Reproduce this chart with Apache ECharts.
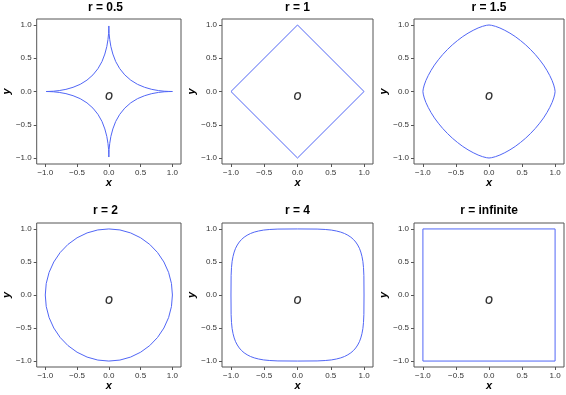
<!DOCTYPE html>
<html>
<head>
<meta charset="utf-8">
<script src="https://cdn.jsdelivr.net/npm/echarts@6/dist/echarts.min.js"></script>
<style>
html,body{margin:0;padding:0;background:#fff;}
#chart{width:566px;height:395px;}
</style>
</head>
<body>
<div id="chart"></div>
<script>
// ---- data ----
const panelTitles = ['r = 0.5', 'r = 1', 'r = 1.5', 'r = 2', 'r = 4', 'r = infinite'];
const tickValues = [-1, -0.5, 0, 0.5, 1];
const originLabel = 'O';
const originPoint = [[0, -0.09]];

const curveR05 = [
  [1,0],[0.985,0],[0.941,0.001],[0.871,0.004],[0.780,0.014],[0.675,0.032],[0.563,0.063],[0.450,0.108],[0.344,0.171],[0.25,0.25],[0.171,0.344],[0.108,0.450],[0.063,0.563],[0.032,0.675],[0.014,0.780],[0.004,0.871],[0.001,0.941],[0,0.985],[0,1],
  [0,0.985],[-0.001,0.941],[-0.004,0.871],[-0.014,0.780],[-0.032,0.675],[-0.063,0.563],[-0.108,0.450],[-0.171,0.344],[-0.25,0.25],[-0.344,0.171],[-0.450,0.108],[-0.563,0.063],[-0.675,0.032],[-0.780,0.014],[-0.871,0.004],[-0.941,0.001],[-0.985,0],[-1,0],
  [-0.985,0],[-0.941,-0.001],[-0.871,-0.004],[-0.780,-0.014],[-0.675,-0.032],[-0.563,-0.063],[-0.450,-0.108],[-0.344,-0.171],[-0.25,-0.25],[-0.171,-0.344],[-0.108,-0.450],[-0.063,-0.563],[-0.032,-0.675],[-0.014,-0.780],[-0.004,-0.871],[-0.001,-0.941],[0,-0.985],[0,-1],
  [0,-0.985],[0.001,-0.941],[0.004,-0.871],[0.014,-0.780],[0.032,-0.675],[0.063,-0.563],[0.108,-0.450],[0.171,-0.344],[0.25,-0.25],[0.344,-0.171],[0.450,-0.108],[0.563,-0.063],[0.675,-0.032],[0.780,-0.014],[0.871,-0.004],[0.941,-0.001],[0.985,0],[1,0]
];

const curveR1 = [[1,0],[0,1],[-1,0],[0,-1],[1,0]];

const curveR15 = [
  [1,0],[0.995,0.039],[0.980,0.097],[0.955,0.165],[0.920,0.239],[0.877,0.317],[0.826,0.397],[0.766,0.477],[0.701,0.555],[0.630,0.630],[0.555,0.701],[0.477,0.766],[0.397,0.826],[0.317,0.877],[0.239,0.920],[0.165,0.955],[0.097,0.980],[0.039,0.995],[0,1],
  [-0.039,0.995],[-0.097,0.980],[-0.165,0.955],[-0.239,0.920],[-0.317,0.877],[-0.397,0.826],[-0.477,0.766],[-0.555,0.701],[-0.630,0.630],[-0.701,0.555],[-0.766,0.477],[-0.826,0.397],[-0.877,0.317],[-0.920,0.239],[-0.955,0.165],[-0.980,0.097],[-0.995,0.039],[-1,0],
  [-0.995,-0.039],[-0.980,-0.097],[-0.955,-0.165],[-0.920,-0.239],[-0.877,-0.317],[-0.826,-0.397],[-0.766,-0.477],[-0.701,-0.555],[-0.630,-0.630],[-0.555,-0.701],[-0.477,-0.766],[-0.397,-0.826],[-0.317,-0.877],[-0.239,-0.920],[-0.165,-0.955],[-0.097,-0.980],[-0.039,-0.995],[0,-1],
  [0.039,-0.995],[0.097,-0.980],[0.165,-0.955],[0.239,-0.920],[0.317,-0.877],[0.397,-0.826],[0.477,-0.766],[0.555,-0.701],[0.630,-0.630],[0.701,-0.555],[0.766,-0.477],[0.826,-0.397],[0.877,-0.317],[0.920,-0.239],[0.955,-0.165],[0.980,-0.097],[0.995,-0.039],[1,0]
];

const curveR2 = [
  [1,0],[0.985,0.174],[0.940,0.342],[0.866,0.5],[0.766,0.643],[0.643,0.766],[0.5,0.866],[0.342,0.940],[0.174,0.985],[0,1],
  [-0.174,0.985],[-0.342,0.940],[-0.5,0.866],[-0.643,0.766],[-0.766,0.643],[-0.866,0.5],[-0.940,0.342],[-0.985,0.174],[-1,0],
  [-0.985,-0.174],[-0.940,-0.342],[-0.866,-0.5],[-0.766,-0.643],[-0.643,-0.766],[-0.5,-0.866],[-0.342,-0.940],[-0.174,-0.985],[0,-1],
  [0.174,-0.985],[0.342,-0.940],[0.5,-0.866],[0.643,-0.766],[0.766,-0.643],[0.866,-0.5],[0.940,-0.342],[0.985,-0.174],[1,0]
];

const curveR4 = [
  [1,0],[0.998,0.295],[0.992,0.417],[0.983,0.509],[0.969,0.585],[0.952,0.650],[0.931,0.707],[0.905,0.757],[0.875,0.802],[0.841,0.841],[0.802,0.875],[0.757,0.905],[0.707,0.931],[0.650,0.952],[0.585,0.969],[0.509,0.983],[0.417,0.992],[0.295,0.998],[0,1],
  [-0.295,0.998],[-0.417,0.992],[-0.509,0.983],[-0.585,0.969],[-0.650,0.952],[-0.707,0.931],[-0.757,0.905],[-0.802,0.875],[-0.841,0.841],[-0.875,0.802],[-0.905,0.757],[-0.931,0.707],[-0.952,0.650],[-0.969,0.585],[-0.983,0.509],[-0.992,0.417],[-0.998,0.295],[-1,0],
  [-0.998,-0.295],[-0.992,-0.417],[-0.983,-0.509],[-0.969,-0.585],[-0.952,-0.650],[-0.931,-0.707],[-0.905,-0.757],[-0.875,-0.802],[-0.841,-0.841],[-0.802,-0.875],[-0.757,-0.905],[-0.707,-0.931],[-0.650,-0.952],[-0.585,-0.969],[-0.509,-0.983],[-0.417,-0.992],[-0.295,-0.998],[0,-1],
  [0.295,-0.998],[0.417,-0.992],[0.509,-0.983],[0.585,-0.969],[0.650,-0.952],[0.707,-0.931],[0.757,-0.905],[0.802,-0.875],[0.841,-0.841],[0.875,-0.802],[0.905,-0.757],[0.931,-0.707],[0.952,-0.650],[0.969,-0.585],[0.983,-0.509],[0.992,-0.417],[0.998,-0.295],[1,0]
];

const curveRInf = [[1,1],[-1,1],[-1,-1],[1,-1],[1,1]];

const curves = [curveR05, curveR1, curveR15, curveR2, curveR4, curveRInf];

// ---- layout ----
const colLeft = [30, 222, 414];
const colWidth = [151, 151, 150];
const rowTop = [19, 223];
const rowHeight = [145, 144];
const titleY = [7.5, 211];
const xRange = [-1.135, 1.135];
const yRange = [-1.09, 1.09];
const lineColor = '#5166f6';
const frameColor = '#555';
const fontFamily = '"Liberation Sans", Arial, Helvetica, sans-serif';

const fmt = v => (v < 0 ? '\u2212' : '') + Math.abs(v).toFixed(1);

const grids = [], xAxes = [], yAxes = [], series = [], graphics = [];
for (let i = 0; i < 6; i++) {
  const r = Math.floor(i / 3), c = i % 3;
  grids.push({
    left: colLeft[c], top: rowTop[r], width: colWidth[c], height: rowHeight[r],
    show: true, borderColor: frameColor, borderWidth: 1, backgroundColor: 'transparent'
  });
  const axisCommon = {
    type: 'value', gridIndex: i,
    axisLine: { show: false, onZero: false },
    axisTick: { show: true, length: 3, inside: false, customValues: tickValues, lineStyle: { color: frameColor, width: 1 } },
    axisLabel: { customValues: tickValues, formatter: fmt, fontSize: 8, color: '#333', fontFamily: fontFamily, margin: 5 },
    splitLine: { show: false },
    nameLocation: 'middle',
    nameTextStyle: { fontSize: 11, fontStyle: 'italic', fontWeight: 'bold', color: '#000', fontFamily: fontFamily }
  };
  xAxes.push(Object.assign({}, axisCommon, { position: 'bottom', min: xRange[0], max: xRange[1], name: 'x', nameGap: 13 }));
  yAxes.push(Object.assign({}, axisCommon, { position: 'left', min: yRange[0], max: yRange[1], name: 'y', nameGap: 16 }));
  series.push({
    type: 'line', xAxisIndex: i, yAxisIndex: i, data: curves[i],
    showSymbol: false, symbol: 'none', smooth: false,
    lineStyle: { color: lineColor, width: 1 }, silent: true
  });
  series.push({
    type: 'scatter', xAxisIndex: i, yAxisIndex: i, data: originPoint,
    symbol: 'circle', symbolSize: 2, itemStyle: { color: 'rgba(255,255,255,0)' }, silent: true,
    label: { show: true, position: 'inside', formatter: originLabel, fontSize: 10, fontStyle: 'italic', fontWeight: 'bold', color: '#000', fontFamily: fontFamily }
  });
  graphics.push({
    type: 'text', x: colLeft[c] + colWidth[c] / 2, y: titleY[r],
    style: { text: panelTitles[i], fontSize: 12, fontWeight: 'bold', fill: '#000', textAlign: 'center', textVerticalAlign: 'middle', fontFamily: fontFamily }
  });
}

const chart = echarts.init(document.getElementById('chart'), null, { renderer: 'canvas' });
chart.setOption({
  animation: false,
  backgroundColor: '#fff',
  grid: grids, xAxis: xAxes, yAxis: yAxes, series: series, graphic: graphics
});
</script>
</body>
</html>
